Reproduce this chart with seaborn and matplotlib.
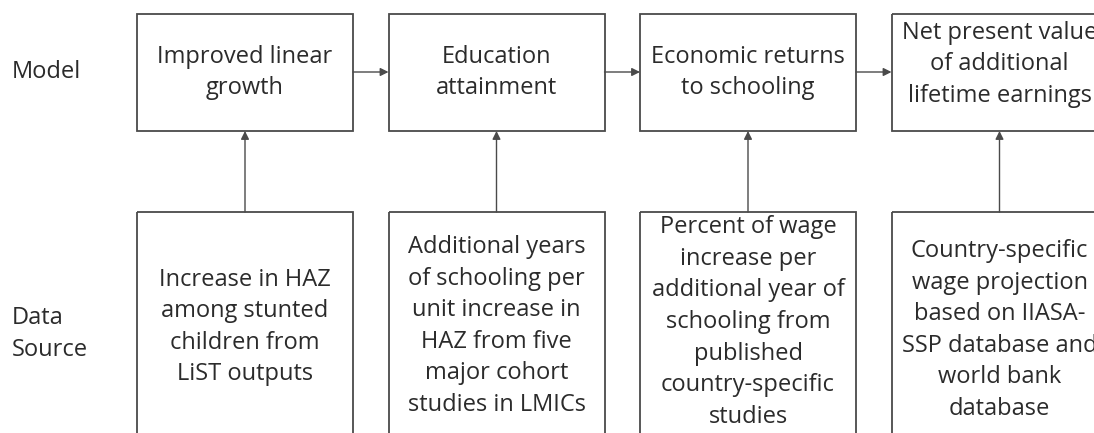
import matplotlib
matplotlib.use("Agg")
import matplotlib.pyplot as plt
import seaborn as sns
from matplotlib.patches import Rectangle

# Тексты блоков схемы
row_labels = ["Model", "Data\nSource"]
model_steps = [
    "Improved linear\ngrowth",
    "Education\nattainment",
    "Economic returns\nto schooling",
    "Net present value\nof additional\nlifetime earnings",
]
data_sources = [
    "Increase in HAZ\namong stunted\nchildren from\nLiST outputs",
    "Additional years\nof schooling per\nunit increase in\nHAZ from five\nmajor cohort\nstudies in LMICs",
    "Percent of wage\nincrease per\nadditional year of\nschooling from\npublished\ncountry-specific\nstudies",
    "Country-specific\nwage projection\nbased on IIASA-\nSSP database and\nworld bank\ndatabase",
]

sns.set_style("white")
plt.rcParams['font.family'] = ['Open Sans', 'DejaVu Sans']

fig = plt.figure(figsize=(10.94, 4.33), dpi=100)
ax = fig.add_axes([0, 0, 1, 1])
ax.set_xlim(0, 1094)
ax.set_ylim(433, 0)
ax.axis("off")

line_col = "#4a4a4a"
text_col = "#2b2b2b"
fs = 17
ls = 1.42

x0, step, w = 137, 251.5, 216
top_y, top_h = 14, 117
bot_y, bot_h = 212, 260
bot_text_y = [327, 326, 322, 330]

for i, (m, d) in enumerate(zip(model_steps, data_sources)):
    x = x0 + i * step
    cx = x + w / 2
    ax.add_patch(Rectangle((x, top_y), w, top_h, fill=False, ec=line_col, lw=1.3))
    ax.add_patch(Rectangle((x, bot_y), w, bot_h, fill=False, ec=line_col, lw=1.3))
    ax.text(cx, top_y + top_h / 2 + (-8 if i == 3 else 0), m, ha="center", va="center",
            fontsize=fs, color=text_col, linespacing=ls)
    ax.text(cx, bot_text_y[i], d, ha="center", va="center",
            fontsize=fs, color=text_col, linespacing=ls)
    # стрелка снизу вверх
    ax.annotate("", xy=(cx, top_y + top_h), xytext=(cx, bot_y),
                arrowprops=dict(arrowstyle="-|>", color=line_col, lw=1.0,
                                mutation_scale=12, shrinkA=0, shrinkB=0))
    if i < 3:
        ax.annotate("", xy=(x + step, 72), xytext=(x + w, 72),
                    arrowprops=dict(arrowstyle="-|>", color=line_col, lw=1.0,
                                    mutation_scale=12, shrinkA=0, shrinkB=0))

ax.text(12, 72, row_labels[0], ha="left", va="center", fontsize=fs, color=text_col)
ax.text(12, 334, row_labels[1], ha="left", va="center", fontsize=fs, color=text_col,
        linespacing=ls)

fig.savefig("out.png", dpi=100)
